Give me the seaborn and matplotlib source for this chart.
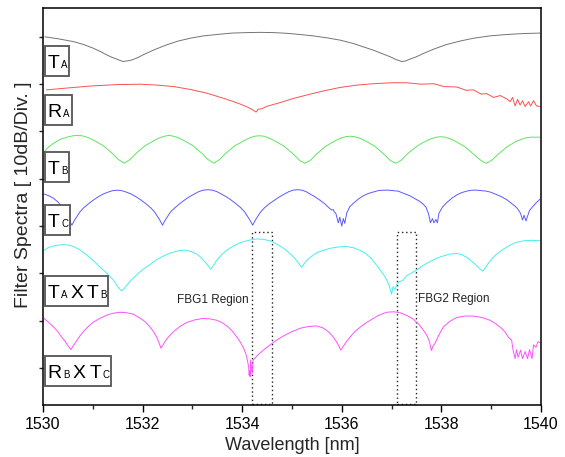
import numpy as np
import pandas as pd
import seaborn as sns
import matplotlib.pyplot as plt
from matplotlib.patches import Rectangle
from matplotlib.offsetbox import TextArea, HPacker, DrawingArea, AnnotationBbox

# ---------------------------------------------------------
# 기본 설정
# ---------------------------------------------------------
sns.set_theme(style="ticks")
plt.rcParams['font.family'] = ['Liberation Sans', 'DejaVu Sans']

# ---------------------------------------------------------
# 데이터 (그림에서 읽은 값, 10dB/Div 단위로 세로 오프셋 포함)
# ---------------------------------------------------------
ta_wl = [1530.04, 1530.30, 1530.61, 1530.81, 1531.01, 1531.15, 1531.28, 1531.38, 1531.48,
         1531.55, 1531.61, 1531.68, 1531.78, 1531.90, 1532.01, 1532.24, 1532.48, 1532.71,
         1532.95, 1533.22, 1533.49, 1533.79, 1534.09, 1534.36, 1534.63, 1534.90, 1535.16,
         1535.43, 1535.70, 1535.97, 1536.23, 1536.43, 1536.63, 1536.80, 1536.97, 1537.09,
         1537.20, 1537.28, 1537.37, 1537.50, 1537.64, 1537.87, 1538.11, 1538.37, 1538.64,
         1538.97, 1539.31, 1539.65, 1539.98]
ta_db = [70.0, 69.6, 69.0, 68.4, 67.6, 66.9, 66.2, 65.7, 65.3,
         65.0, 64.8, 64.9, 65.1, 65.6, 66.2, 67.3, 68.3, 69.1,
         69.7, 70.2, 70.5, 70.8, 70.9, 70.95, 70.9, 70.75, 70.5,
         70.2, 69.8, 69.3, 68.6, 67.9, 67.2, 66.5, 65.8, 65.2,
         64.8, 64.9, 65.3, 65.8, 66.5, 67.5, 68.4, 69.1, 69.7,
         70.2, 70.5, 70.7, 70.8]

ra_wl = [1530.07, 1530.50, 1530.94, 1531.45, 1531.95, 1532.30, 1532.62, 1532.95, 1533.29,
         1533.69, 1533.96, 1534.12, 1534.22, 1534.28, 1534.32, 1534.39, 1534.49, 1534.76,
         1535.00, 1535.29, 1535.60, 1535.96, 1536.30, 1536.63, 1537.00, 1537.30, 1537.60,
         1537.84, 1538.05, 1538.31, 1538.50, 1538.64, 1538.80, 1538.91, 1539.05, 1539.18,
         1539.31, 1539.38, 1539.43, 1539.48, 1539.53, 1539.58, 1539.63, 1539.68, 1539.75,
         1539.79, 1539.85, 1539.91, 1539.98]
ra_db = [58.8, 59.2, 59.6, 59.9, 60.0, 59.8, 59.5, 58.9, 58.1,
         56.8, 55.8, 55.1, 54.5, 54.1, 54.7, 54.8, 55.3, 56.1,
         56.9, 57.7, 58.5, 59.3, 59.8, 60.1, 60.3, 60.3, 60.0,
         60.1, 59.5, 59.4, 58.7, 58.8, 57.9, 58.0, 57.2, 57.6,
         56.9, 56.3, 57.2, 55.4, 56.8, 55.6, 56.5, 55.3, 56.3,
         55.4, 56.5, 55.4, 55.3]

tb_wl = [1530.02, 1530.10, 1530.21, 1530.34, 1530.48, 1530.60, 1530.72, 1530.82, 1530.91,
         1531.01, 1531.11, 1531.21, 1531.31, 1531.41, 1531.51, 1531.57, 1531.63,
         1531.69, 1531.75, 1531.85, 1531.95, 1532.05, 1532.15, 1532.25, 1532.35, 1532.44,
         1532.53, 1532.62, 1532.71, 1532.81, 1532.91, 1533.01, 1533.11, 1533.21, 1533.31,
         1533.37, 1533.43,
         1533.49, 1533.55, 1533.65, 1533.75, 1533.85, 1533.96, 1534.06, 1534.16, 1534.25,
         1534.34, 1534.44, 1534.54, 1534.64, 1534.74, 1534.84, 1534.94, 1535.04, 1535.14,
         1535.20, 1535.26,
         1535.32, 1535.38, 1535.48, 1535.58, 1535.68, 1535.78, 1535.88, 1535.98, 1536.08,
         1536.17, 1536.26, 1536.36, 1536.46, 1536.56, 1536.66, 1536.76, 1536.86, 1536.96,
         1537.02, 1537.08,
         1537.14, 1537.20, 1537.30, 1537.40, 1537.50, 1537.60, 1537.70, 1537.80, 1537.90,
         1537.99, 1538.08, 1538.17, 1538.27, 1538.37, 1538.47, 1538.57, 1538.67, 1538.78,
         1538.84, 1538.90,
         1538.96, 1539.02, 1539.12, 1539.22, 1539.32, 1539.42, 1539.52, 1539.62, 1539.71,
         1539.81, 1539.90, 1539.98]
tb_db = [45.7, 46.6, 47.5, 48.3, 48.8, 49.1, 49.2, 49.0, 48.7,
         48.2, 47.6, 47.0, 46.1, 45.2, 44.1, 43.7, 43.3,
         43.7, 44.1, 45.2, 46.1, 47.0, 47.6, 48.2, 48.7, 49.0,
         49.2, 49.0, 48.7, 48.2, 47.6, 47.0, 46.1, 45.2, 44.1,
         43.7, 43.3,
         43.7, 44.1, 45.2, 46.1, 47.0, 47.6, 48.2, 48.7, 49.0,
         49.1, 49.0, 48.6, 48.1, 47.5, 46.9, 46.0, 45.1, 44.0,
         43.6, 43.3,
         43.6, 44.0, 45.1, 46.0, 46.9, 47.5, 48.1, 48.6, 48.9,
         49.0, 48.9, 48.6, 48.1, 47.5, 46.9, 46.0, 45.1, 44.0,
         43.6, 43.3,
         43.6, 44.0, 45.1, 46.0, 46.8, 47.5, 48.0, 48.5, 48.8,
         48.9, 48.8, 48.5, 48.0, 47.4, 46.8, 45.9, 45.0, 44.0,
         43.6, 43.3,
         43.6, 44.0, 45.0, 45.9, 46.8, 47.4, 48.0, 48.4, 48.7,
         48.8, 48.8, 48.8]

tc_wl = [1530.02, 1530.12, 1530.21, 1530.30, 1530.37, 1530.43, 1530.48, 1530.53, 1530.58,
         1530.63, 1530.68, 1530.74, 1530.81, 1530.91, 1531.01, 1531.11, 1531.21, 1531.31,
         1531.40, 1531.49, 1531.58, 1531.67, 1531.77, 1531.87, 1531.97, 1532.07, 1532.17,
         1532.24, 1532.30, 1532.35, 1532.40,
         1532.45, 1532.50, 1532.56, 1532.64, 1532.74, 1532.84, 1532.94, 1533.04, 1533.13,
         1533.22, 1533.31, 1533.40, 1533.49, 1533.58, 1533.68, 1533.78, 1533.88, 1533.98,
         1534.05, 1534.11, 1534.16, 1534.21,
         1534.26, 1534.31, 1534.37, 1534.44, 1534.54, 1534.65, 1534.75, 1534.85, 1534.94,
         1535.02, 1535.11, 1535.20, 1535.28, 1535.36, 1535.46, 1535.56, 1535.66, 1535.75,
         1535.80, 1535.83, 1535.85, 1535.88, 1535.93, 1535.96, 1536.00, 1536.03, 1536.06,
         1536.10, 1536.16,
         1536.24, 1536.33, 1536.43, 1536.53, 1536.63, 1536.73, 1536.83, 1536.93, 1537.03,
         1537.13, 1537.25, 1537.37, 1537.47, 1537.57, 1537.64, 1537.69, 1537.74, 1537.78,
         1537.82, 1537.85, 1537.89, 1537.92, 1537.95, 1538.02,
         1538.11, 1538.21, 1538.31, 1538.41, 1538.51, 1538.61, 1538.71, 1538.81, 1538.90,
         1538.98, 1539.10, 1539.21, 1539.31, 1539.41, 1539.47, 1539.52, 1539.56, 1539.59,
         1539.63, 1539.66, 1539.70, 1539.73, 1539.77, 1539.83, 1539.91, 1539.98]
tc_db = [36.8, 36.4, 35.9, 35.1, 34.2, 33.3, 32.3, 31.2, 30.2,
         31.2, 32.0, 33.0, 33.8, 34.7, 35.5, 36.2, 36.8, 37.2,
         37.5, 37.6, 37.5, 37.2, 36.8, 36.2, 35.5, 34.7, 33.8,
         33.0, 32.0, 31.2, 30.2,
         31.2, 32.0, 33.0, 33.8, 34.7, 35.5, 36.2, 36.8, 37.3,
         37.6, 37.7, 37.6, 37.3, 36.8, 36.2, 35.5, 34.7, 33.8,
         33.0, 32.0, 31.2, 30.2,
         31.2, 32.0, 33.0, 33.8, 34.7, 35.5, 36.2, 36.8, 37.3,
         37.6, 37.7, 37.6, 37.3, 36.8, 36.2, 35.5, 34.7, 33.8,
         33.4, 33.5, 33.0, 32.7, 30.7, 31.9, 30.0, 31.6, 30.6,
         32.8, 34.1,
         34.9, 35.7, 36.4, 36.9, 37.2, 37.5, 37.6, 37.6, 37.5,
         37.4, 36.9, 36.4, 35.8, 35.2, 34.6, 34.0, 32.7, 30.7,
         31.6, 30.7, 31.4, 30.7, 32.7, 34.0,
         35.0, 35.9, 36.6, 37.1, 37.4, 37.6, 37.6, 37.5, 37.4,
         37.2, 36.7, 36.2, 35.6, 34.8, 34.3, 33.8, 33.2, 32.7,
         31.3, 32.3, 31.1, 32.1, 33.3, 34.1, 35.0, 35.7]

tatb_wl = [1530.02, 1530.11, 1530.21, 1530.31, 1530.41, 1530.51, 1530.61, 1530.74, 1530.88,
           1531.01, 1531.14, 1531.25, 1531.35, 1531.42, 1531.48, 1531.53, 1531.58, 1531.63,
           1531.68, 1531.78, 1531.88, 1532.01, 1532.15, 1532.28, 1532.42, 1532.55, 1532.68,
           1532.78, 1532.88, 1532.98, 1533.09, 1533.17, 1533.25, 1533.31, 1533.37, 1533.43,
           1533.49, 1533.59, 1533.69, 1533.82, 1533.96, 1534.12, 1534.29, 1534.43, 1534.56,
           1534.66, 1534.76, 1534.86, 1534.96, 1535.04, 1535.11, 1535.19, 1535.24, 1535.29,
           1535.39, 1535.50, 1535.63, 1535.76, 1535.93, 1536.10, 1536.24, 1536.37, 1536.47,
           1536.57, 1536.65, 1536.73, 1536.80, 1536.87, 1536.95, 1537.00, 1537.03, 1537.07,
           1537.11, 1537.17, 1537.22, 1537.30, 1537.40, 1537.50, 1537.63, 1537.77, 1537.90,
           1538.04, 1538.17, 1538.31, 1538.41, 1538.51, 1538.61, 1538.71, 1538.77, 1538.83,
           1538.88, 1538.94, 1539.02, 1539.11, 1539.24, 1539.38, 1539.51, 1539.65, 1539.81,
           1539.98]
tatb_db = [24.9, 25.5, 25.8, 26.0, 26.1, 26.0, 25.7, 25.0, 23.9,
           22.7, 21.4, 20.4, 19.3, 18.5, 17.5, 16.8, 16.3, 16.8,
           17.5, 18.7, 19.7, 20.9, 21.9, 22.9, 23.7, 24.3, 24.7,
           24.9, 24.9, 24.6, 24.1, 23.4, 22.5, 21.7, 20.9, 21.8,
           22.8, 24.0, 24.9, 25.8, 26.5, 27.0, 27.3, 27.2, 26.9,
           26.4, 25.8, 25.1, 24.2, 23.4, 22.5, 21.3, 22.0, 22.7,
           23.6, 24.4, 24.9, 25.3, 25.6, 25.7, 25.4, 24.9, 24.3,
           23.4, 22.4, 21.3, 20.3, 19.3, 17.5, 15.6, 17.2, 16.6,
           17.9, 18.3, 18.5, 19.5, 20.1, 20.7, 21.7, 22.5, 23.2,
           23.7, 24.1, 24.2, 24.0, 23.4, 22.6, 21.6, 21.0, 20.5,
           21.2, 22.1, 23.2, 24.1, 25.1, 26.0, 26.6, 26.9, 27.0,
           26.9]

rbtc_wl = [1530.02, 1530.11, 1530.21, 1530.30, 1530.37, 1530.44, 1530.49, 1530.56, 1530.60,
           1530.64, 1530.72, 1530.81, 1530.91, 1531.01, 1531.14, 1531.28, 1531.41, 1531.55,
           1531.68, 1531.81, 1531.93, 1532.05, 1532.14, 1532.22, 1532.28, 1532.32, 1532.37,
           1532.41, 1532.45, 1532.53, 1532.62, 1532.75, 1532.88, 1533.05, 1533.22, 1533.35,
           1533.49, 1533.61, 1533.72, 1533.81, 1533.89, 1533.96, 1534.02, 1534.06, 1534.09,
           1534.13, 1534.14, 1534.15, 1534.16, 1534.17, 1534.20, 1534.22, 1534.28, 1534.36,
           1534.46, 1534.56, 1534.69, 1534.83, 1535.00, 1535.16, 1535.33, 1535.50, 1535.62,
           1535.73, 1535.82, 1535.89, 1535.94, 1535.98, 1536.03, 1536.08, 1536.17, 1536.26,
           1536.41, 1536.57, 1536.73, 1536.90, 1537.04, 1537.17, 1537.31, 1537.44, 1537.55,
           1537.64, 1537.71, 1537.76, 1537.80, 1537.83, 1537.87, 1537.95, 1538.04, 1538.17,
           1538.31, 1538.47, 1538.64, 1538.81, 1538.98, 1539.10, 1539.21, 1539.28, 1539.34,
           1539.41, 1539.44, 1539.48, 1539.51, 1539.54, 1539.59, 1539.63, 1539.68, 1539.73,
           1539.77, 1539.82, 1539.85, 1539.90, 1539.94, 1539.98]
rbtc_db = [10.5, 9.7, 8.7, 7.7, 6.6, 5.7, 4.9, 3.9, 4.6,
           5.2, 6.5, 7.7, 8.8, 9.7, 10.5, 11.2, 11.6, 11.8,
           11.7, 11.4, 10.7, 9.8, 8.8, 7.7, 6.6, 5.6, 4.2,
           4.9, 5.6, 6.7, 7.7, 8.8, 9.6, 10.2, 10.5, 10.4,
           10.1, 9.5, 8.7, 7.7, 6.6, 5.5, 4.4, 3.4, 2.4,
           0.3, -1.5, -0.5, -1.8, 1.7, -1.1, 1.7, 2.4, 3.2,
           4.1, 4.9, 5.9, 6.8, 7.7, 8.4, 8.8, 8.9, 8.5,
           7.7, 6.7, 5.6, 4.7, 3.8, 4.6, 5.4, 6.6, 7.7,
           9.0, 10.1, 11.1, 11.8, 11.9, 11.7, 11.1, 10.3, 9.2,
           8.0, 6.9, 5.6, 3.7, 4.6, 5.2, 7.0, 8.7, 9.9,
           10.7, 11.0, 11.0, 10.7, 10.1, 9.3, 8.4, 7.6, 6.6,
           5.9, 3.8, 2.0, 3.9, 2.3, 3.8, 2.0, 3.5, 2.0,
           3.9, 2.0, 4.9, 4.4, 5.6, 5.4]

series = ['TA', 'RA', 'TB', 'TC', 'TAxTB', 'RBxTC']
colors = ['#747474', '#ff5050', '#5ee65e', '#5a5aff', '#45eeee', '#ff50ff']

frames = []
for name, wl, db in zip(series,
                        [ta_wl, ra_wl, tb_wl, tc_wl, tatb_wl, rbtc_wl],
                        [ta_db, ra_db, tb_db, tc_db, tatb_db, rbtc_db]):
    frames.append(pd.DataFrame({'wl': wl, 'db': db, 'curve': name}))
df = pd.concat(frames, ignore_index=True)

# ---------------------------------------------------------
# 그림
# ---------------------------------------------------------
fig = plt.figure(figsize=(5.65, 4.57), dpi=100)
ax = fig.add_axes([0.0761, 0.1138, 0.8814, 0.8687])

sns.lineplot(data=df, x='wl', y='db', hue='curve', hue_order=series,
             palette=colors, estimator=None, sort=False, lw=0.7,
             legend=False, ax=ax)

ax.set_xlim(1530, 1540)
ax.set_ylim(-7.8, 76.1)
ax.set_xticks(np.arange(1530, 1541, 2))
ax.set_xticks(np.arange(1531, 1540, 2), minor=True)
ax.set_yticks(np.arange(0, 71, 10))
ax.set_yticklabels([])
ax.tick_params(axis='x', which='major', direction='out', length=5, width=1,
               labelsize=11.5, colors='black')
ax.tick_params(axis='x', which='minor', direction='out', length=3, width=1)
ax.tick_params(axis='y', direction='out', length=3, width=1)
for sp in ax.spines.values():
    sp.set_linewidth(1.1)
    sp.set_color('black')

ax.set_xlabel('Wavelength [nm]', fontsize=13, labelpad=4)
ax.set_ylabel('Filter Spectra [ 10dB/Div. ]', fontsize=14)
ax.yaxis.set_label_coords(-0.022, 0.529)

# FBG 영역 표시
for x0, w in [(1534.19, 0.40), (1537.10, 0.40)]:
    ax.add_patch(Rectangle((x0, -7.5), w, 36.3, fill=False, edgecolor='#222222',
                           lw=1.0, linestyle=(0, (1, 2))))
ax.text(1534.12, 13.7, 'FBG1 Region', ha='right', va='baseline', fontsize=8.5, color='#222222')
ax.text(1537.53, 13.9, 'FBG2 Region', ha='left', va='baseline', fontsize=8.5, color='#222222')

# 곡선 이름 상자
labels = [
    ([('T', 'A')], 64.9),
    ([('R', 'A')], 54.5),
    ([('T', 'B')], 42.4),
    ([('T', 'C')], 31.2),
    ([('T', 'A'), ('T', 'B')], 16.3),
    ([('R', 'B'), ('T', 'C')], -0.7),
]
big = dict(size=14, color='black')
small = dict(size=7, color='black')
for parts, yv in labels:
    groups = []
    for i, (main, sub) in enumerate(parts):
        if i > 0:
            groups.append(TextArea('X', textprops=big))
        groups.append(HPacker(children=[TextArea(main, textprops=big),
                                        TextArea(sub, textprops=small)],
                              align='baseline', pad=0, sep=1))
    inner = HPacker(children=groups, align='baseline', pad=0, sep=2.3)
    strut = DrawingArea(0, 19, ydescent=4.5)
    pack = HPacker(children=[strut, inner], align='baseline', pad=0, sep=1)
    ab = AnnotationBbox(pack, (1530.07, yv), xycoords='data', box_alignment=(0, 0.5),
                        frameon=True, pad=0.12,
                        bboxprops=dict(edgecolor='#555555', lw=1.3, facecolor='white'))
    ax.add_artist(ab)

fig.savefig('out.png', dpi=100)
